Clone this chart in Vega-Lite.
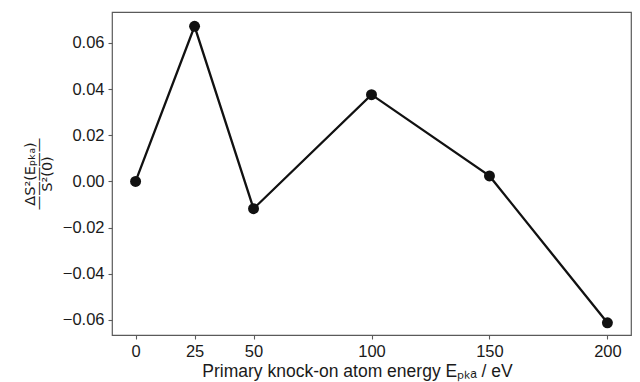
{
  "$schema": "https://vega.github.io/schema/vega-lite/v6.json",
  "autosize": {"type": "none"},
  "padding": {"left": 112, "top": 12, "right": 9, "bottom": 47},
  "width": 519,
  "height": 323,
  "background": "white",
  "config": {
    "font": "Liberation Sans",
    "view": {"stroke": "#5a5a5a", "strokeWidth": 1.2},
    "axis": {
      "grid": false,
      "domain": false,
      "tickColor": "#5a5a5a",
      "tickSize": 4,
      "tickWidth": 1.1,
      "labelColor": "#1a1a1a",
      "labelFontSize": 16.5,
      "titleColor": "#1a1a1a",
      "titleFontWeight": "normal",
      "labelPadding": 4
    }
  },
  "data": {
    "values": [
      {"E": 0, "v": 0.0},
      {"E": 25, "v": 0.0672},
      {"E": 50, "v": -0.0118},
      {"E": 100, "v": 0.0376},
      {"E": 150, "v": 0.0024},
      {"E": 200, "v": -0.0612}
    ]
  },
  "encoding": {
    "x": {
      "field": "E",
      "type": "quantitative",
      "scale": {"domain": [-10, 210], "nice": false, "zero": false},
      "axis": {
        "values": [0, 25, 50, 100, 150, 200],
        "title": "Primary knock-on atom energy Eₚₖₐ / eV",
        "titleFontSize": 17.5,
        "titlePadding": 3,
        "titleX": 245
      }
    },
    "y": {
      "field": "v",
      "type": "quantitative",
      "scale": {"domain": [-0.0665, 0.0734], "nice": false, "zero": false},
      "axis": {
        "values": [-0.06, -0.04, -0.02, 0, 0.02, 0.04, 0.06],
        "format": ".2f",
        "title": ["ΔS²(Eₚₖₐ)", "—————", "S²(0)"],
        "titleFont": "DejaVu Sans",
        "titleFontSize": 14.5,
        "titlePadding": 8,
        "titleLineHeight": 8.5
      }
    }
  },
  "layer": [
    {"mark": {"type": "line", "color": "#111", "strokeWidth": 2.3}},
    {"mark": {"type": "point", "filled": true, "color": "#111", "opacity": 1, "size": 120}}
  ]
}
